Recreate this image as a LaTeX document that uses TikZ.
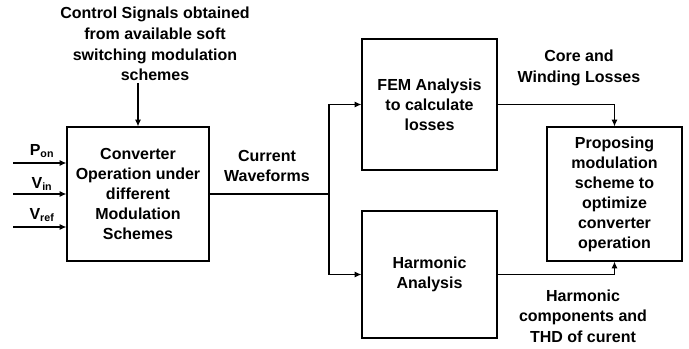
\documentclass[tikz,border=0pt]{standalone}
\usepackage{fontspec}
\setmainfont{Liberation Sans}
\usetikzlibrary{arrows.meta}

\tikzset{
  blockbox/.style={draw, line width=0.9pt, align=center, font=\bfseries\fontsize{12}{15}\selectfont, inner sep=0pt},
  txt/.style={align=center, font=\bfseries\fontsize{12}{15.5}\selectfont, inner sep=0pt},
  flow/.style={line width=0.9pt, -{Latex[length=5pt,width=4.5pt]}}
}

\begin{document}
\begin{tikzpicture}[x=0.75pt,y=0.75pt,yscale=-1,xscale=1]
\useasboundingbox (0,0) rectangle (689,349);

% blocks
\node [blockbox, minimum width=106.5pt, minimum height=100.5pt] (conv) at (138,194) {Converter\\Operation under\\different\\Modulation\\Schemes};
\node [blockbox, minimum width=101.25pt, minimum height=98.25pt] (fem) at (429.5,104.5) {FEM Analysis\\to calculate\\losses};
\node [blockbox, minimum width=101.25pt, minimum height=95.25pt] (harm) at (429.5,274.5) {Harmonic\\Analysis};
\node [blockbox, minimum width=101.25pt, minimum height=100.5pt] (prop) at (614.5,194) {Proposing\\modulation\\scheme to\\optimize\\converter\\operation};

% text labels
\node [txt] (ctrl) at (155,44) {Control Signals obtained\\from available soft\\switching modulation\\schemes};
\node [txt] (wave) at (267,166) {Current\\Waveforms};
\node [txt] (loss) at (579,68) {Core and\\Winding Losses};
\node [txt] (thd) at (583,316) {Harmonic\\components and\\THD of curent};
\node [txt] (pon) at (42,151) {P\textsubscript{on}};
\node [txt] (vin) at (42,184) {V\textsubscript{in}};
\node [txt] (vref) at (42,215) {V\textsubscript{ref}};

% inputs
\coordinate (p1) at (13,163);
\coordinate (p2) at (13,194);
\coordinate (p3) at (13,227);
\draw [flow] (p1) -- (p1 -| conv.west);
\draw [flow] (p2) -- (p2 -| conv.west);
\draw [flow] (p3) -- (p3 -| conv.west);
\coordinate (c0) at (138,83);
\draw [flow] (c0) -- (conv.north);

% waveforms split
\coordinate (split) at (329,194);
\draw [line width=0.9pt] (conv.east) -- (split);
\draw [flow] (split) |- (fem.west);
\draw [flow] (split) |- (harm.west);

% results
\draw [flow] (fem.east) -| (prop.north);
\draw [flow] (harm.east) -| (prop.south);

\end{tikzpicture}
\end{document}
